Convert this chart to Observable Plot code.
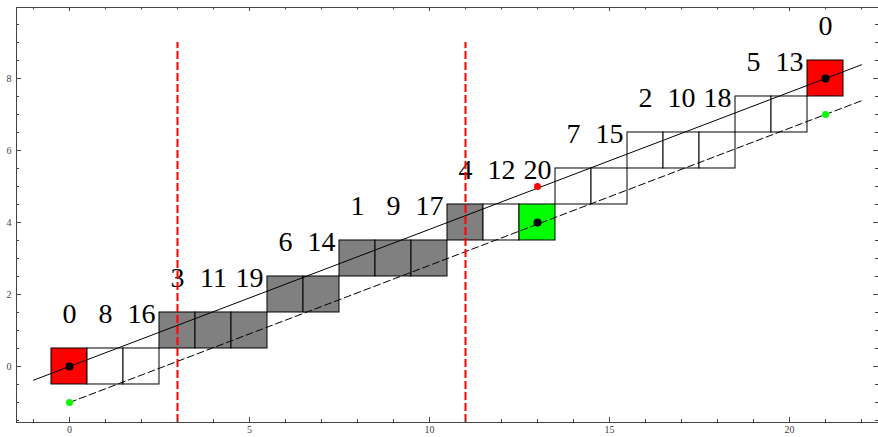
<!DOCTYPE html>
<html>
<head>
<meta charset="utf-8">
<script src="https://cdn.jsdelivr.net/npm/d3@7"></script>
<script src="https://cdn.jsdelivr.net/npm/@observablehq/plot@0.6"></script>
<style>
  html, body { margin: 0; padding: 0; background: #fff; }
  #chart svg { display: block; }
</style>
</head>
<body>
<div id="chart"></div>
<script>
// Staircase of unit cells: column, row, fill and the residue label above each
const cellX     = [0, 1, 2, 3, 4, 5, 6, 7, 8, 9, 10, 11, 12, 13, 14, 15, 16, 17, 18, 19, 20, 21];
const cellRow   = [0, 0, 0, 1, 1, 1, 2, 2, 3, 3, 3, 4, 4, 4, 5, 5, 6, 6, 6, 7, 7, 8];
const cellFill  = ["red", "white", "white", "gray", "gray", "gray", "gray", "gray", "gray", "gray", "gray",
                   "gray", "white", "lime", "white", "white", "white", "white", "white", "white", "white", "red"];
const cellLabel = [0, 8, 16, 3, 11, 19, 6, 14, 1, 9, 17, 4, 12, 20, 7, 15, 2, 10, 18, 5, 13, 0];

// Reference lines (slope 8/21)
const solidLine  = [{x: -1, y: -0.381}, {x: 22, y: 8.381}];
const dashedLine = [{x: 0, y: -1}, {x: 22, y: 7.381}];

// Vertical red markers
const markerX = [3, 11];
const markerTop = 9;

// Points
const blackDots = [{x: 0, y: 0}, {x: 13, y: 4}, {x: 21, y: 8}];
const greenDots = [{x: 0, y: -1}, {x: 21, y: 7}];
const redDots   = [{x: 13, y: 5}];

// Axis ticks
const xMajor = [0, 5, 10, 15, 20];
const xMinor = [-1, 1, 2, 3, 4, 6, 7, 8, 9, 11, 12, 13, 14, 16, 17, 18, 19, 21, 22];
const yMajor = [0, 2, 4, 6, 8];
const yMinor = [-1.5, -1, -0.5, 0.5, 1, 1.5, 2.5, 3, 3.5, 4.5, 5, 5.5, 6.5, 7, 7.5, 8.5, 9, 9.5];

const xDomain = [-1.472, 22.472];
const yDomain = [-1.556, 9.972];

const W = 878, H = 437;
const M = {left: 16, right: 0, top: 7, bottom: 15};
const frameW = W - M.left - M.right;
const frameH = H - M.top - M.bottom;

const cells = cellX.map((x, i) => ({x, row: cellRow[i], fill: cellFill[i], label: cellLabel[i]}));

const serif = "'Liberation Serif', 'Times New Roman', 'DejaVu Serif', serif";
const frameColor = "#444";
const tickFont = {fontFamily: serif, fontSize: 10, fill: "#444"};

// short inward tick marks: full-span rules trimmed by insets down to `len` pixels
const xTicks = (ticks, len, side) => Plot.ruleX(ticks, {
  x: d => d, stroke: frameColor, strokeWidth: 1,
  ...(side === "bottom" ? {insetTop: frameH - len} : {insetBottom: frameH - len})
});
const yTicks = (ticks, len, side) => Plot.ruleY(ticks, {
  y: d => d, stroke: frameColor, strokeWidth: 1,
  ...(side === "left" ? {insetRight: frameW - len} : {insetLeft: frameW - len})
});

const chart = Plot.plot({
  width: W,
  height: H,
  marginLeft: M.left,
  marginRight: M.right,
  marginTop: M.top,
  marginBottom: M.bottom,
  x: {domain: xDomain},
  y: {domain: yDomain},
  style: {background: "#fff", fontFamily: serif},
  marks: [
    Plot.rect(cells, {
      x1: d => d.x - 0.5, x2: d => d.x + 0.5,
      y1: d => d.row - 0.5, y2: d => d.row + 0.5,
      fill: "fill", stroke: "black", strokeWidth: 1
    }),
    Plot.line(solidLine, {x: "x", y: "y", stroke: "black", strokeWidth: 1}),
    Plot.line(dashedLine, {x: "x", y: "y", stroke: "black", strokeWidth: 1, strokeDasharray: "7,3.5"}),
    Plot.text(cells, {
      x: "x", y: d => d.row + 1.45, text: "label",
      fontFamily: serif, fontSize: 28, fill: "black"
    }),
    Plot.ruleX(markerX, {x: d => d, y1: yDomain[0], y2: markerTop, stroke: "red", strokeWidth: 2, strokeDasharray: "8,3"}),
    Plot.dot(greenDots, {x: "x", y: "y", r: 3.5, fill: "lime"}),
    Plot.dot(redDots, {x: "x", y: "y", r: 3.5, fill: "red"}),
    Plot.dot(blackDots, {x: "x", y: "y", r: 4, fill: "black"}),
    Plot.frame({stroke: frameColor, strokeWidth: 1}),
    // inward ticks on all four sides
    xTicks(xMajor, 5, "bottom"),
    xTicks(xMinor, 3, "bottom"),
    xTicks(xMajor, 4, "top"),
    xTicks(xMinor, 2.5, "top"),
    yTicks(yMajor, 5, "left"),
    yTicks(yMinor, 3, "left"),
    yTicks(yMajor, 5, "right"),
    yTicks(yMinor, 3, "right"),
    // tick labels
    Plot.axisX({anchor: "bottom", ticks: xMajor, tickSize: 0, tickPadding: 3, label: null, ...tickFont}),
    Plot.axisY({anchor: "left", ticks: yMajor, tickSize: 0, tickPadding: 5, label: null, ...tickFont})
  ]
});

document.getElementById("chart").append(chart);
</script>
</body>
</html>
